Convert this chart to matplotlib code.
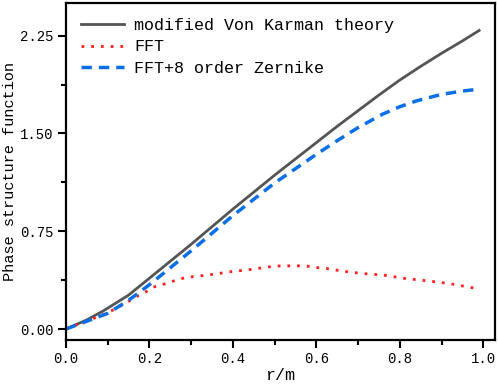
import matplotlib
matplotlib.use("Agg")
import matplotlib.pyplot as plt
from matplotlib.ticker import MultipleLocator, FormatStrFormatter

plt.rcParams['font.family'] = ['Liberation Mono', 'DejaVu Sans']

# modified Von Karman theory
r_theory = [0, 0.05, 0.09, 0.15, 0.2, 0.25, 0.3, 0.4, 0.5, 0.6, 0.65, 0.7, 0.75, 0.8, 0.85, 0.9, 0.95, 0.99]
d_theory = [0, 0.07, 0.14, 0.26, 0.39, 0.52, 0.65, 0.92, 1.18, 1.43, 1.555, 1.675, 1.795, 1.91, 2.015, 2.115, 2.21, 2.29]

# FFT
r_fft = [0, 0.024, 0.05, 0.076, 0.1, 0.12, 0.144, 0.168, 0.192, 0.212, 0.236, 0.264,
         0.288, 0.34, 0.396, 0.444, 0.472, 0.5, 0.552, 0.576, 0.604, 0.63, 0.656,
         0.708, 0.76, 0.812, 0.864, 0.916, 0.968, 0.992]
d_fft = [0, 0.031, 0.06, 0.094, 0.125, 0.158, 0.20, 0.248, 0.286, 0.324, 0.345, 0.375,
         0.396, 0.414, 0.44, 0.457, 0.47, 0.483, 0.485, 0.483, 0.47, 0.462, 0.447,
         0.426, 0.414, 0.388, 0.37, 0.35, 0.32, 0.305]

# FFT+8 order Zernike
r_zern = [0, 0.05, 0.1, 0.15, 0.2, 0.25, 0.3, 0.4, 0.5, 0.6, 0.65, 0.7, 0.76, 0.8, 0.84, 0.9, 0.95, 0.99]
d_zern = [0, 0.06, 0.12, 0.22, 0.34, 0.47, 0.60, 0.87, 1.12, 1.34, 1.445, 1.545, 1.65, 1.705, 1.75, 1.80, 1.825, 1.84]

fig = plt.figure(figsize=(4.98, 3.85), dpi=100)
ax = fig.add_axes([0.1325, 0.117, 0.994 - 0.1325, 0.992 - 0.117])

ax.plot(r_theory, d_theory, color='#555555', lw=2, label='modified Von Karman theory')
ax.plot(r_fft, d_fft, color='#ff2020', lw=2, ls=(0, (1, 2.5)), label='FFT')
ax.plot(r_zern, d_zern, color='#0a6fe6', lw=2.5, ls=(0, (3, 2)), label='FFT+8 order Zernike')

ax.set_xlim(0, 1.028)
ax.set_ylim(-0.084, 2.50)
ax.xaxis.set_major_locator(MultipleLocator(0.2))
ax.xaxis.set_minor_locator(MultipleLocator(0.1))
ax.yaxis.set_major_locator(MultipleLocator(0.75))
ax.yaxis.set_minor_locator(MultipleLocator(0.375))
ax.xaxis.set_major_formatter(FormatStrFormatter('%.1f'))
ax.yaxis.set_major_formatter(FormatStrFormatter('%.2f'))
ax.tick_params(which='major', direction='out', length=6, width=1.5, labelsize=10, pad=3)
ax.tick_params(which='minor', direction='out', length=3.5, width=1.5)
for s in ax.spines.values():
    s.set_linewidth(1.6)

ax.set_xlabel('r/m', fontsize=12, labelpad=1)
ax.set_ylabel('Phase structure function', fontsize=11, labelpad=2)

ax.legend(loc='upper left', frameon=False, fontsize=12, handlelength=2.6,
          handletextpad=0.6, labelspacing=0.38, borderaxespad=0.5)

fig.savefig('out.png', dpi=100)
